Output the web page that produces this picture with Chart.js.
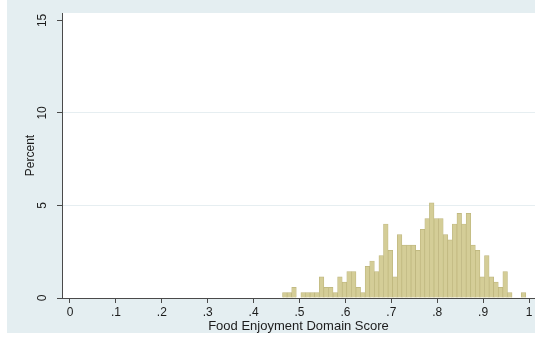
<!DOCTYPE html>
<html>
<head>
<meta charset="utf-8">
<script src="https://cdn.jsdelivr.net/npm/chart.js@4/dist/chart.umd.min.js"></script>
<style>
  html, body { margin: 0; padding: 0; background: #ffffff; }
  #wrap { width: 535px; height: 344px; position: relative; }
</style>
</head>
<body>
<div id="wrap"><canvas id="c" width="535" height="344"></canvas></div>
<script>
// Histogram of the food enjoyment domain score (percent of respondents per bin)
const binStart = 0.463;
const binWidth = 0.01;
const percent = [
  0.29, 0.29, 0.57, 0.00, 0.29, 0.29, 0.29, 0.29, 1.14, 0.57,
  0.57, 0.29, 1.14, 0.86, 1.43, 1.43, 0.57, 0.29, 1.71, 2.00,
  1.43, 2.29, 4.00, 2.57, 1.14, 3.43, 2.86, 2.86, 2.86, 2.57,
  3.71, 4.29, 5.14, 4.29, 4.29, 3.43, 3.14, 4.00, 4.57, 4.00,
  4.57, 2.86, 2.57, 1.14, 2.29, 1.14, 0.86, 0.57, 1.43, 0.29,
  0.00, 0.00, 0.29
];
const xTicks = [0, 0.1, 0.2, 0.3, 0.4, 0.5, 0.6, 0.7, 0.8, 0.9, 1];
const xTickLabels = ['0', '.1', '.2', '.3', '.4', '.5', '.6', '.7', '.8', '.9', '1'];
const yTicks = [0, 5, 10, 15];
const yTickLabels = ['0', '5', '10', '15'];
const xTitle = 'Food Enjoyment Domain Score';
const yTitle = 'Percent';

const FONT = 'Liberation Sans, Arial, Helvetica, sans-serif';
const TEXT = '#1c1c1c';
const AXIS = '#4a4a4a';
const REGION = '#e4eef1';
const GRID = '#e6eef1';

const bins = percent.map((p, i) => ({ x: binStart + binWidth * (i + 0.5), y: p }));

// Graph region background and white plot region
const backdrop = {
  id: 'backdrop',
  beforeDraw(chart) {
    const { ctx, chartArea } = chart;
    ctx.save();
    ctx.fillStyle = '#ffffff';
    ctx.fillRect(0, 0, chart.width, chart.height);
    ctx.fillStyle = REGION;
    ctx.fillRect(7, 0, chart.width - 7, 333);
    ctx.fillStyle = '#ffffff';
    ctx.fillRect(chartArea.left, chartArea.top, chartArea.right - chartArea.left, chartArea.bottom - chartArea.top);
    ctx.restore();
  }
};

// Vertical y tick labels, read bottom to top
const yLabels = {
  id: 'yLabels',
  afterDraw(chart) {
    const { ctx } = chart;
    const ys = chart.scales.y;
    ctx.save();
    ctx.fillStyle = TEXT;
    ctx.font = '12px ' + FONT;
    ctx.textAlign = 'center';
    ctx.textBaseline = 'middle';
    yTicks.forEach((v, i) => {
      const py = ys.getPixelForValue(v);
      ctx.save();
      ctx.translate(43, py);
      ctx.rotate(-Math.PI / 2);
      ctx.fillText(yTickLabels[i], 0, 0);
      ctx.restore();
    });
    ctx.restore();
  }
};

new Chart(document.getElementById('c'), {
  type: 'bar',
  data: {
    datasets: [{
      label: yTitle,
      data: bins,
      backgroundColor: '#d4cd97',
      borderColor: '#bdb57c',
      borderWidth: 0.7,
      barPercentage: 1,
      categoryPercentage: 1
    }]
  },
  options: {
    responsive: false,
    devicePixelRatio: 1,
    animation: false,
    layout: { padding: { top: 13, right: 0, bottom: 0, left: 0 } },
    plugins: {
      legend: { display: false },
      tooltip: { enabled: false }
    },
    scales: {
      x: {
        type: 'linear',
        offset: false,
        min: -0.0174,
        max: 1.013,
        afterBuildTicks: (s) => { s.ticks = xTicks.map(v => ({ value: v })); },
        afterFit: (s) => { s.height = 46; },
        ticks: {
          callback: (v, i) => xTickLabels[i],
          color: TEXT,
          font: { family: FONT, size: 12 },
          padding: 2,
          maxRotation: 0,
          autoSkip: false
        },
        grid: {
          offset: false,
          drawOnChartArea: false,
          drawTicks: true,
          tickLength: 5,
          tickColor: AXIS
        },
        border: { display: true, color: AXIS, width: 1 },
        title: {
          display: true,
          text: xTitle,
          color: TEXT,
          font: { family: FONT, size: 13 },
          padding: { top: 0, bottom: 10 }
        }
      },
      y: {
        type: 'linear',
        min: 0,
        max: 15.4,
        afterBuildTicks: (s) => { s.ticks = yTicks.map(v => ({ value: v })); },
        afterFit: (s) => { s.width = 62; },
        ticks: {
          color: 'rgba(0,0,0,0)',
          font: { family: FONT, size: 12 }
        },
        grid: {
          color: (c) => (c.tick && (c.tick.value === 5 || c.tick.value === 10)) ? GRID : 'rgba(0,0,0,0)',
          drawTicks: true,
          tickLength: 5,
          tickColor: AXIS,
          lineWidth: 1
        },
        border: { display: true, color: AXIS, width: 1 },
        title: {
          display: true,
          text: yTitle,
          color: TEXT,
          font: { family: FONT, size: 12 },
          padding: { top: 23, bottom: 0 }
        }
      }
    }
  },
  plugins: [backdrop, yLabels]
});
</script>
</body>
</html>
